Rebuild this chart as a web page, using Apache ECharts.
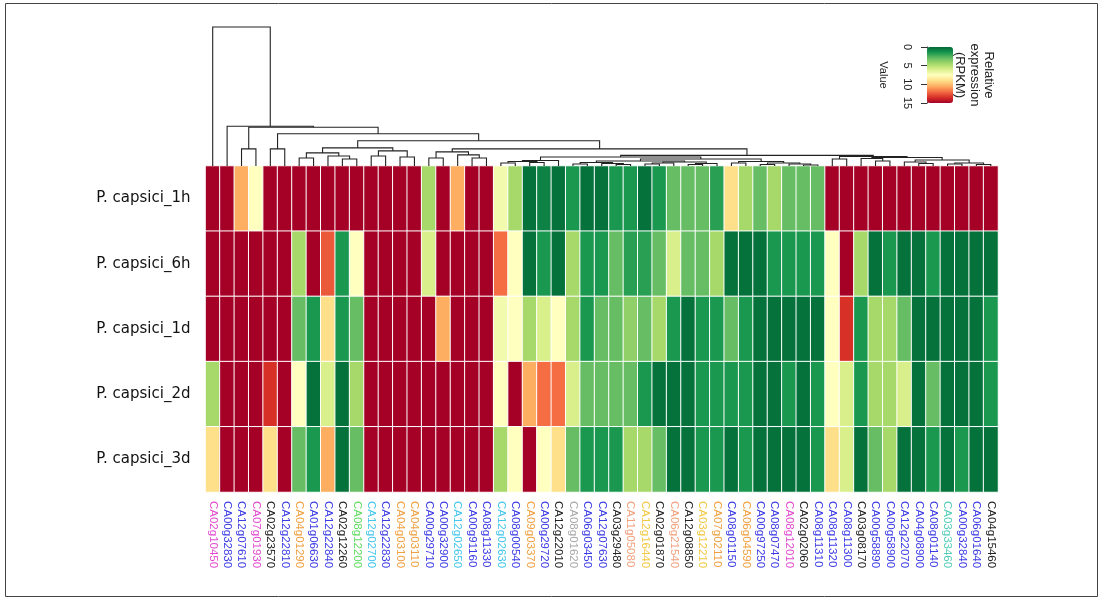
<!DOCTYPE html>
<html><head><meta charset="utf-8">
<script src="https://cdn.jsdelivr.net/npm/echarts@6/dist/echarts.min.js"></script>
<style>html,body{margin:0;padding:0;background:#fff}#c{width:1104px;height:601px}</style>
</head><body><div id="c"></div>
<script>
// ---------- DATA ----------
const genes = ['CA02g10450','CA00g32830','CA12g07610','CA07g01930','CA02g23570','CA12g22810','CA04g01290','CA01g06630','CA12g22840','CA02g12260',
 'CA08g12200','CA12g02700','CA12g22830','CA04g03100','CA04g03110','CA00g29710','CA00g32900','CA12g02650','CA00g91160','CA08g11330',
 'CA12g02630','CA08g00540','CA09g03370','CA00g29720','CA12g22010','CA08g01620','CA06g03450','CA12g07630','CA03g29480','CA11g05080',
 'CA12g16440','CA02g01870','CA06g21540','CA12g08850','CA03g12210','CA07g02110','CA08g01150','CA06g04590','CA00g97250','CA08g07470',
 'CA08g12010','CA02g02060','CA08g11310','CA08g11320','CA08g11300','CA03g08170','CA00g58890','CA00g58900','CA12g22070','CA04g08900',
 'CA08g01140','CA03g33460','CA00g32840','CA06g01640','CA04g15460'];
const geneGroups = ['m','b','b','m','k','b','o','b','b','k','g','c','b','o','o','b','b','c','b','b',
 'c','b','o','b','k','a','b','b','k','s','y','k','s','k','y','o','b','o','b','b',
 'm','k','b','b','b','k','b','b','b','b','b','t','b','b','k'];
const samples = ['P. capsici_1h','P. capsici_6h','P. capsici_1d','P. capsici_2d','P. capsici_3d'];
const val1h = [15,15,10.5,7.5,15,15,15,15,15,15,15,15,15,15,15,4.5,15,10.5,15,15,7,4.5,0.3,0.8,0.3,1.5,0.3,0.3,1.5,1.5,0.3,1.5,3,3,3,1.8,9,4.5,3,4.5,3,3,3,15,15,15,15,15,15,15,15,15,15,15,15];
const val6h = [15,15,15,15,15,15,4.5,15,12.5,1.5,7.5,15,15,15,15,6,15,15,15,15,12,7.5,0.3,1.5,0.3,4.5,1.5,1.5,3,1.8,1.8,3,6,3,3,4.5,0.3,0.3,0.3,1.5,1.5,1.5,1.5,7.5,15,4.5,0.3,1.5,0.3,0.3,1.5,0.3,0.3,0.3,0.3];
const val1d = [15,15,15,15,15,15,3,1.5,9,1.5,3,15,15,15,15,15,10.5,15,15,15,7,7.5,4.5,6,7.5,4.5,1.5,3,3,4,3,4.5,1.5,0.3,1.5,1.5,3,1.5,0.3,0.3,0.3,0.3,0.3,7.5,13.5,1.5,4.5,4.5,3,0.3,0.3,0.3,0.3,0.3,1.5];
const val2d = [4.5,15,15,15,13.5,15,7.5,0.3,6,0.3,4.5,15,15,15,15,15,15,15,15,15,7.5,15,10.5,12,12,6,3,3,3,3,1.5,0.3,0.3,0.3,1.5,1.5,1.5,1.5,0.3,0.3,1.5,0.3,1.5,7.5,6,1.5,4.5,4.5,6,0.3,3,0.3,0.3,0.3,1.5];
const val3d = [9,15,15,15,9,15,3,1.5,10.5,0.3,3,15,15,15,15,15,15,15,15,15,4.5,7.5,15,7.5,9,3,1.5,1.5,1.5,4.5,4.5,3,0.3,0.3,1.5,1.5,0.3,1.5,0.3,0.3,0.3,0.3,1.5,9,6,0.3,3,4.5,0.3,0.3,1.5,0.3,1.5,0.3,0.3];
const legendTicks = [0, 5, 10, 15];
const legendTitle = ['Relative', 'expression', '(RPKM)'];
// dendrogram: [left, right, height]; leaves are column numbers (1-based)
const nodeE  = [[[7,8,8],[9,[10,11,7],10],13], [[12,13,10],[14,15,9],15], 18];
const nodeG  = [[16,17,8],[18,[19,20,8],11],14];
const nodeP  = [[[21,22,3],[23,24,3.5],4.5],25,5.5];
const nodeQ1 = [[[26,27,2],[28,[29,30,1.5],2.5],3.5],[[[31,32,2],33,3],[[34,35,1.5],36,2.5],4],5];
const nodeQ2 = [[37,38,3],[[39,40,1.5],[41,[42,43,1],2],3],4.5];
const nodeI  = [nodeP, [nodeQ1, nodeQ2, 7], 9];
const nodeJ  = [[44,45,7],[[46,[47,48,5],7.5],[[49,[50,51,2.5],4],[[52,53,2],[54,55,1.5],3],6],8.5],9.5];
const nodeH  = [nodeI, nodeJ, 10.5];
const nodeF  = [nodeG, nodeH, 17];
const nodeD  = [nodeE, nodeF, 25];
const nodeC  = [[5,6,17], nodeD, 32];
const nodeN1 = [[3,4,17], nodeC, 38.5];
const nodeN2 = [2, nodeN1, 39.5];
const dendroRoot = [1, nodeN2, 138];

// ---------- STYLE ----------
const palette = ['#006837','#1a9850','#66bd63','#a6d96a','#d9ef8b','#ffffbf','#fee08b','#fdae61','#f46d43','#d73027','#a50026'];
const groupColor = {b:'#3b3be6', m:'#e24ad0', k:'#222222', o:'#f0a040', g:'#5fdc5f', c:'#45c6ec', s:'#f2a07c', y:'#f2c844', a:'#a8a8a8', t:'#55ccb8'};

// ---------- BUILD ----------
const rows = [val1h, val6h, val1d, val2d, val3d];
const heatData = [];
rows.forEach((r, ri) => r.forEach((v, ci) => heatData.push([ci, ri, v])));

const segs = [];
function walk(n) {
  if (typeof n === 'number') return {x: n - 1, h: 0};
  const a = walk(n[0]), b = walk(n[1]);
  segs.push([a.x, a.h, b.x, b.h, n[2]]);
  return {x: (a.x + b.x) / 2, h: n[2]};
}
walk(dendroRoot);

const HL = 205.5, HW = 792.5;
const chart = echarts.init(document.getElementById('c'), null, {renderer: 'canvas'});
chart.setOption({
  animation: false,
  backgroundColor: '#fff',
  grid: [
    {left: HL, width: HW, top: 166, height: 326},
    {left: HL, width: HW, top: 27, height: 139},
    {left: 927, width: 26, top: 47, height: 56}
  ],
  xAxis: [
    {type: 'category', gridIndex: 0, data: genes, position: 'bottom',
     axisLine: {show: false}, axisTick: {show: false}, splitLine: {show: false},
     axisLabel: {interval: 0, rotate: -90, fontSize: 11.5, fontFamily: 'Liberation Sans', margin: 9,
       color: (v, i) => groupColor[geneGroups[i]]}},
    {type: 'value', gridIndex: 1, min: -0.5, max: 54.5, show: false},
    {type: 'value', gridIndex: 2, min: 0, max: 1, show: false}
  ],
  yAxis: [
    {type: 'category', gridIndex: 0, data: samples, inverse: true,
     axisLine: {show: false}, axisTick: {show: false}, splitLine: {show: false},
     axisLabel: {fontSize: 15, fontFamily: 'DejaVu Sans', color: '#111', margin: 15}},
    {type: 'value', gridIndex: 1, min: 0, max: 138, show: false},
    {type: 'value', gridIndex: 2, min: legendTicks[0], max: legendTicks[legendTicks.length - 1],
     interval: legendTicks[1] - legendTicks[0], inverse: true, position: 'left',
     axisLine: {show: true, lineStyle: {color: '#333', width: 1}},
     axisTick: {show: true, length: 6, lineStyle: {color: '#333'}},
     splitLine: {show: false},
     axisLabel: {rotate: -90, fontSize: 11, fontFamily: 'Liberation Sans', color: '#222', margin: 14},
     name: 'Value', nameLocation: 'middle', nameRotate: -90, nameGap: 38,
     nameTextStyle: {fontSize: 11, fontFamily: 'Liberation Sans', color: '#222'}}
  ],
  visualMap: {
    type: 'continuous', min: 0, max: 15, inverse: true, orient: 'vertical',
    left: 927, top: 47, itemWidth: 26, itemHeight: 56, padding: 0,
    calculable: false, seriesIndex: 0, inRange: {color: palette}
  },
  series: [
    {type: 'heatmap', xAxisIndex: 0, yAxisIndex: 0, data: heatData,
     itemStyle: {borderColor: '#ffffff', borderWidth: 1}, emphasis: {disabled: true}},
    {type: 'custom', xAxisIndex: 1, yAxisIndex: 1, data: segs, silent: true,
     encode: {x: [0, 2], y: [1, 3, 4]},
     renderItem: (params, api) => {
       const p1 = api.coord([api.value(0), api.value(1)]);
       const p2 = api.coord([api.value(0), api.value(4)]);
       const p3 = api.coord([api.value(2), api.value(4)]);
       const p4 = api.coord([api.value(2), api.value(3)]);
       return {type: 'polyline', shape: {points: [p1, p2, p3, p4]},
               style: {stroke: '#222', lineWidth: 1.1, fill: null}};
     }}
  ],
  graphic: [
    {type: 'rect', shape: {x: 5.5, y: 3.5, width: 1092, height: 593}, style: {fill: null, stroke: '#444', lineWidth: 1}, silent: true},
    ...legendTitle.map((t, i) => ({
      type: 'text', x: 989 - i * 14.5, y: 75, rotation: -Math.PI / 2, silent: true,
      style: {text: t, font: '13px "Liberation Sans"', fill: '#222', textAlign: 'center', textVerticalAlign: 'middle', align: 'center', verticalAlign: 'middle'}
    }))
  ]
});
</script></body></html>
